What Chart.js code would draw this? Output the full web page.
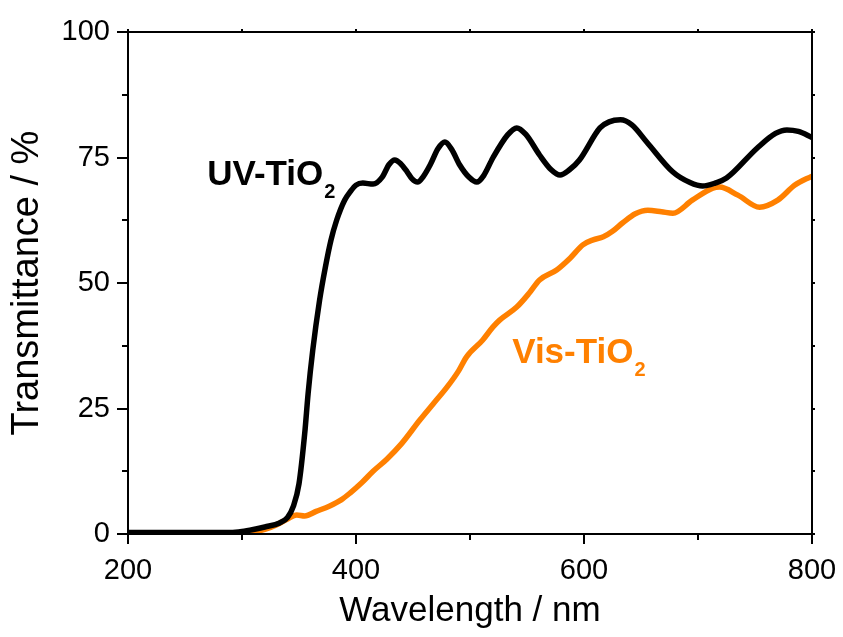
<!DOCTYPE html>
<html>
<head>
<meta charset="utf-8">
<title>Transmittance</title>
<script src="https://cdn.jsdelivr.net/npm/chart.js@4/dist/chart.umd.min.js"></script>
<style>
  body { margin: 0; background: #fff; }
  #chart { display: block; }
</style>
</head>
<body>
<canvas id="chart" width="843" height="637"></canvas>
<script>
// values
var uvWavelength = [200, 230, 260, 290, 300, 310, 320, 333, 340, 345, 350, 355, 358, 362, 368, 373, 378, 383, 390, 395, 400, 406, 415, 423, 429, 434, 439, 445, 449, 454, 459, 465, 472, 478, 484, 491, 499, 506, 512, 520, 533, 541, 549, 561, 571, 579, 587, 596, 614, 622, 632, 642, 655, 678, 693, 704, 715, 725, 752, 768, 778, 788, 800];
var uvTransmittance = [0.3, 0.3, 0.3, 0.3, 0.5, 0.9, 1.4, 2.2, 3.3, 5.5, 10, 20, 28, 36.5, 46.5, 53, 58.5, 62.5, 66.5, 68.2, 69.5, 69.9, 69.7, 71.1, 73.6, 74.5, 73.8, 72.1, 70.8, 70.1, 71.2, 73.5, 76.8, 78.1, 76.6, 73.5, 71.1, 70.1, 71.4, 74.9, 79.5, 80.9, 79.6, 75.5, 72.6, 71.5, 72.5, 74.5, 80.9, 82.1, 82.5, 81.5, 78.1, 72.1, 70.0, 69.3, 69.9, 70.9, 76.9, 79.8, 80.5, 80.2, 79];

var visWavelength = [200, 250, 300, 310, 320, 330, 340, 348, 355, 365, 377, 387, 395, 405, 415, 427, 440, 456, 468, 480, 490, 497, 511, 520, 526, 541, 552, 561, 576, 588, 599, 608, 617, 625, 634, 645, 656, 668, 678, 695, 713, 719, 735, 754, 770, 785, 800];
var visTransmittance = [0.2, 0.2, 0.2, 0.4, 0.9, 1.8, 3.0, 3.8, 3.6, 4.5, 5.6, 6.8, 8.2, 10.2, 12.5, 14.9, 18, 22.7, 26, 29.3, 32.5, 35.3, 38.6, 41.2, 42.6, 45.2, 48, 50.6, 52.6, 55, 57.6, 58.6, 59.2, 60.3, 62, 63.8, 64.5, 64.2, 63.9, 66.5, 68.9, 69.1, 67.5, 65.1, 66.5, 69.5, 71.3];

var xTickLabels = [200, 400, 600, 800];
var yTickLabels = [0, 25, 50, 75, 100];

function toPoints(xs, ys) {
    var pts = [];
    for (var i = 0; i < xs.length; i++) {
        pts.push({x: xs[i], y: ys[i]});
    }
    return pts;
}

var FONT = '"Liberation Sans", Arial, sans-serif';

// frame, ticks and the two curve labels
var decorations = {
    id: 'decorations',
    afterDraw: function (chart) {
        var ctx = chart.ctx;
        var a = chart.chartArea;
        var xs = chart.scales.x, ys = chart.scales.y;
        ctx.save();
        ctx.strokeStyle = '#000';
        ctx.lineWidth = 2;
        ctx.strokeRect(a.left, a.top, a.right - a.left, a.bottom - a.top);

        ctx.beginPath();
        xs.ticks.forEach(function (t) {
            var px = Math.round(xs.getPixelForValue(t.value));
            var major = xTickLabels.indexOf(t.value) >= 0;
            ctx.moveTo(px, a.bottom);
            ctx.lineTo(px, a.bottom + (major ? 10 : 6));
            ctx.moveTo(px, a.top);
            ctx.lineTo(px, a.top - 3);
        });
        ys.ticks.forEach(function (t) {
            var py = Math.round(ys.getPixelForValue(t.value));
            var major = yTickLabels.indexOf(t.value) >= 0;
            ctx.moveTo(a.left, py);
            ctx.lineTo(a.left - (major ? 11 : 6), py);
            ctx.moveTo(a.right, py);
            ctx.lineTo(a.right + 3, py);
        });
        ctx.stroke();

        function label(text, color, wl, tr) {
            var x = xs.getPixelForValue(wl);
            var y = ys.getPixelForValue(tr);
            ctx.fillStyle = color;
            ctx.textAlign = 'left';
            ctx.textBaseline = 'alphabetic';
            ctx.font = 'bold 35px ' + FONT;
            ctx.fillText(text, x, y);
            var w = ctx.measureText(text).width;
            ctx.font = 'bold 20px ' + FONT;
            ctx.fillText('2', x + w + 1, y + 13);
        }
        label('UV-TiO', '#000000', 269.5, 69.5);
        label('Vis-TiO', '#FF8000', 537, 34.1);
        ctx.restore();
    }
};

var ctx = document.getElementById('chart').getContext('2d');
var chart = new Chart(ctx, {
    type: 'line',
    data: {
        datasets: [
            {
                label: 'UV-TiO2',
                data: toPoints(uvWavelength, uvTransmittance),
                borderColor: '#000000',
                borderWidth: 5.5,
                pointRadius: 0,
                cubicInterpolationMode: 'monotone',
                fill: false
            },
            {
                label: 'Vis-TiO2',
                data: toPoints(visWavelength, visTransmittance),
                borderColor: '#FF8000',
                borderWidth: 5.5,
                pointRadius: 0,
                cubicInterpolationMode: 'monotone',
                fill: false
            }
        ]
    },
    options: {
        responsive: false,
        animation: false,
        devicePixelRatio: 1,
        layout: {padding: {top: 32, right: 31, left: 0, bottom: 0}},
        plugins: {legend: {display: false}, tooltip: {enabled: false}},
        scales: {
            x: {
                type: 'linear',
                min: 200,
                max: 800,
                grid: {display: false, drawTicks: false},
                border: {display: false},
                ticks: {
                    stepSize: 100,
                    padding: 20,
                    color: '#000',
                    font: {family: FONT, size: 29},
                    maxRotation: 0,
                    autoSkip: false,
                    callback: function (v) { return xTickLabels.indexOf(v) >= 0 ? String(v) : ''; }
                },
                title: {
                    display: true,
                    text: 'Wavelength / nm',
                    color: '#000',
                    font: {family: FONT, size: 35},
                    padding: {top: 0, bottom: 5}
                },
                afterFit: function (scale) {
                    scale.height = 103;
                    scale.paddingLeft = 0;
                    scale.paddingRight = 0;
                }
            },
            y: {
                type: 'linear',
                min: 0,
                max: 100,
                grid: {display: false, drawTicks: false},
                border: {display: false},
                ticks: {
                    stepSize: 12.5,
                    padding: 18,
                    color: '#000',
                    font: {family: FONT, size: 29},
                    autoSkip: false,
                    callback: function (v) { return yTickLabels.indexOf(v) >= 0 ? String(v) : ''; }
                },
                title: {
                    display: true,
                    text: 'Transmittance / %',
                    color: '#000',
                    font: {family: FONT, size: 38},
                    padding: {top: 5, bottom: 0}
                },
                afterFit: function (scale) {
                    scale.width = 128;
                    scale.paddingTop = 0;
                    scale.paddingBottom = 0;
                }
            }
        }
    },
    plugins: [decorations]
});
</script>
</body>
</html>
